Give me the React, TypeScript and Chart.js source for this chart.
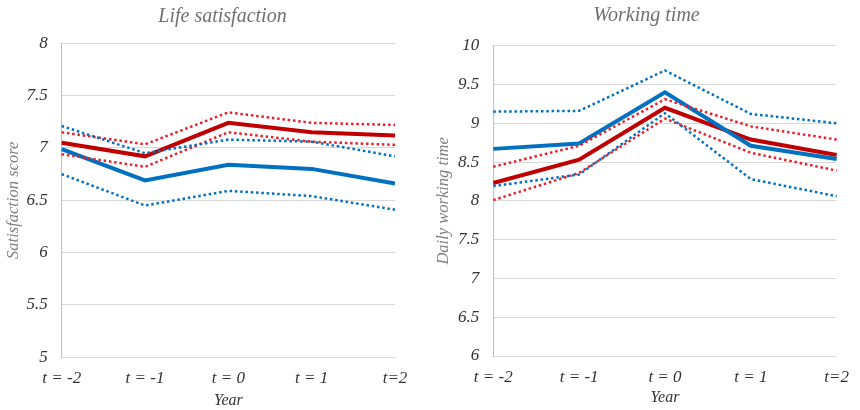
import React, { useEffect, useRef } from "react";
import { Chart, registerables } from "chart.js";

Chart.register(...registerables);

// ---------- data ----------
const years = ["t = -2", "t = -1", "t = 0", "t = 1", "t=2"];

const lifeTicks = [5, 5.5, 6, 6.5, 7, 7.5, 8];
const lifeRedMean = [7.05, 6.92, 7.24, 7.15, 7.12];
const lifeRedUpper = [7.15, 7.035, 7.34, 7.24, 7.22];
const lifeRedLower = [6.94, 6.82, 7.15, 7.06, 7.03];
const lifeBlueMean = [6.99, 6.69, 6.84, 6.8, 6.66];
const lifeBlueUpper = [7.21, 6.95, 7.08, 7.06, 6.92];
const lifeBlueLower = [6.75, 6.45, 6.59, 6.54, 6.41];

const workTicks = [6, 6.5, 7, 7.5, 8, 8.5, 9, 9.5, 10];
const workRedMean = [8.23, 8.53, 9.2, 8.79, 8.59];
const workRedUpper = [8.44, 8.71, 9.31, 8.96, 8.79];
const workRedLower = [8.01, 8.36, 9.06, 8.62, 8.39];
const workBlueMean = [8.67, 8.74, 9.4, 8.71, 8.54];
const workBlueUpper = [9.15, 9.16, 9.68, 9.12, 9.0];
const workBlueLower = [8.19, 8.34, 9.13, 8.28, 8.06];

// ---------- styles ----------
const RED = "#C00000";
const RED_DOT = "#E8202A";
const BLUE = "#0070C0";
const FONT = "'Liberation Serif', 'DejaVu Serif', serif";

// Panel title drawn centred at a given canvas position
const panelTitle = {
  id: "panelTitle",
  afterDraw(chart: any, _args: any, opts: any) {
    const ctx = chart.ctx;
    ctx.save();
    ctx.font = `italic normal ${opts.size}px ${FONT}`;
    ctx.fillStyle = opts.color;
    ctx.textAlign = "center";
    ctx.textBaseline = "middle";
    ctx.fillText(opts.text, opts.x, opts.y);
    ctx.restore();
  },
};

type Layout = {
  titleX: number;
  titleY: number;
  padTop: number;
  padRight: number;
  yWidth: number;
  yTitlePad: number;
  xHeight: number;
  xTitlePad: number;
};

function makeConfig(
  title: string,
  yTitle: string,
  ticks: number[],
  series: { red: number[][]; blue: number[][] },
  L: Layout
): any {
  const dotted = (label: string, data: number[], color: string) => ({
    label,
    data,
    borderColor: color,
    backgroundColor: color,
    borderWidth: 2.5,
    borderDash: [2.5, 2.8],
    pointRadius: 0,
    tension: 0,
    fill: false,
  });
  const solid = (label: string, data: number[], color: string) => ({
    label,
    data,
    borderColor: color,
    backgroundColor: color,
    borderWidth: 4,
    pointRadius: 0,
    tension: 0,
    fill: false,
  });
  return {
    type: "line",
    data: {
      labels: years,
      datasets: [
        dotted("Group B upper bound", series.blue[1], BLUE),
        dotted("Group B lower bound", series.blue[2], BLUE),
        dotted("Group A upper bound", series.red[1], RED_DOT),
        dotted("Group A lower bound", series.red[2], RED_DOT),
        solid("Group B", series.blue[0], BLUE),
        solid("Group A", series.red[0], RED),
      ],
    },
    plugins: [panelTitle],
    options: {
      responsive: false,
      animation: false,
      layout: {
        padding: { left: 0, right: L.padRight, top: L.padTop, bottom: 0 },
      },
      plugins: {
        legend: { display: false },
        tooltip: { enabled: false },
        title: { display: false },
        panelTitle: {
          text: title,
          x: L.titleX,
          y: L.titleY,
          size: 20,
          color: "#707070",
        },
      },
      scales: {
        x: {
          offset: false,
          grid: { display: false, drawTicks: false },
          border: { display: true, color: "#D9D9D9" },
          ticks: {
            color: "#333333",
            padding: 11,
            maxRotation: 0,
            autoSkip: false,
            font: { family: FONT, size: 17, style: "italic" },
          },
          title: {
            display: true,
            text: "Year",
            color: "#333333",
            padding: { top: 0, bottom: L.xTitlePad },
            font: { family: FONT, size: 16, style: "italic" },
          },
          afterFit: (s: any) => {
            s.height = L.xHeight;
          },
        },
        y: {
          min: ticks[0],
          max: ticks[ticks.length - 1],
          grid: { color: "#D9D9D9", lineWidth: 1, drawTicks: false },
          border: { display: true, color: "#BFBFBF" },
          afterBuildTicks: (s: any) => {
            s.ticks = ticks.map((v) => ({ value: v }));
          },
          ticks: {
            color: "#333333",
            padding: 14,
            font: { family: FONT, size: 17, style: "italic" },
            callback: (v: any) => String(v),
          },
          title: {
            display: true,
            text: yTitle,
            color: "#808080",
            padding: { top: L.yTitlePad, bottom: 0 },
            font: { family: FONT, size: 16.5, style: "italic" },
          },
          afterFit: (s: any) => {
            s.width = L.yWidth;
          },
        },
      },
    },
  };
}

function ChartBox(props: { config: any; left: number }) {
  const ref = useRef<HTMLCanvasElement | null>(null);
  useEffect(() => {
    if (!ref.current) return;
    const chart = new Chart(ref.current, props.config);
    return () => chart.destroy();
  }, []);
  return (
    <div
      style={{
        position: "absolute",
        left: props.left,
        top: 0,
        width: 430,
        height: 410,
      }}
    >
      <canvas
        ref={ref}
        width={430}
        height={410}
        style={{ width: 430, height: 410, display: "block" }}
      />
    </div>
  );
}

export default function App() {
  const lifeConfig = makeConfig(
    "Life satisfaction",
    "Satisfaction score",
    lifeTicks,
    {
      red: [lifeRedMean, lifeRedUpper, lifeRedLower],
      blue: [lifeBlueMean, lifeBlueUpper, lifeBlueLower],
    },
    {
      titleX: 222.5,
      titleY: 16.5,
      padTop: 43.3,
      padRight: 35,
      yWidth: 61.7,
      yTitlePad: 3.6,
      xHeight: 52.7,
      xTitlePad: 0,
    }
  );
  const workConfig = makeConfig(
    "Working time",
    "Daily working time",
    workTicks,
    {
      red: [workRedMean, workRedUpper, workRedLower],
      blue: [workBlueMean, workBlueUpper, workBlueLower],
    },
    {
      titleX: 216.5,
      titleY: 15.5,
      padTop: 45.7,
      padRight: 15,
      yWidth: 63.3,
      yTitlePad: 3.6,
      xHeight: 54,
      xTitlePad: 2.4,
    }
  );
  return (
    <div
      style={{
        position: "fixed",
        left: 0,
        top: 0,
        width: 860,
        height: 410,
        background: "#ffffff",
      }}
    >
      <ChartBox config={lifeConfig} left={0} />
      <ChartBox config={workConfig} left={430} />
    </div>
  );
}
